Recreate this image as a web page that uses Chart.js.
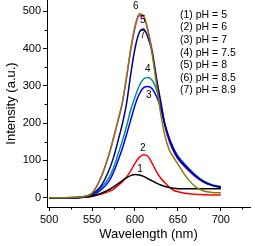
<!DOCTYPE html>
<html>
<head>
<meta charset="utf-8">
<script src="https://cdn.jsdelivr.net/npm/chart.js@4"></script>
<style>
  html, body { margin: 0; padding: 0; background: #fff; }
  #wrap { width: 255px; height: 246px; }
</style>
</head>
<body>
<div id="wrap"><canvas id="pl"></canvas></div>
<script>
// wavelength (nm)
const wavelengths = [500, 510, 520, 530, 540, 550, 560, 570, 575, 580, 585, 590, 595, 600, 605, 610, 615, 620, 625, 630, 635, 640, 645, 650, 660, 670, 680, 690, 700];

// intensity (a.u.) per pH
const ph5   = [0, 0, 0, 0, 1, 4, 11, 22, 29, 37, 45, 53, 59, 62, 61, 57, 51, 45, 39, 34, 30, 27, 25, 24, 24, 24, 24, 24, 24];
const ph6   = [0, 0, 0, 0, 1, 4, 9, 17, 23, 32, 42, 55, 72, 92, 108, 115, 111, 92, 70, 52, 40, 28, 20, 16, 11, 9, 8, 7, 7];
const ph7   = [0, 0, 0, 0, 1, 6, 20, 45, 68, 98, 130, 168, 208, 248, 278, 295, 298, 292, 272, 240, 195, 158, 130, 110, 83, 60, 43, 33, 28];
const ph75  = [0, 0, 0, 0, 2, 8, 25, 55, 80, 115, 150, 190, 235, 270, 300, 318, 322, 315, 290, 245, 195, 160, 132, 112, 85, 62, 45, 35, 30];
const ph8   = [0, 0, 0, 1, 3, 12, 52, 118, 160, 205, 252, 320, 395, 455, 488, 485, 450, 395, 320, 250, 190, 150, 125, 105, 78, 57, 42, 33, 29];
const ph85  = [0, 0, 0, 1, 3, 12, 52, 118, 160, 205, 250, 320, 398, 460, 493, 488, 448, 385, 305, 225, 165, 128, 108, 90, 55, 30, 18, 14, 13];
const ph89  = [0, 0, 0, 0, 2, 10, 30, 75, 108, 150, 195, 250, 330, 400, 443, 452, 430, 390, 320, 258, 195, 155, 125, 105, 80, 58, 42, 33, 28];

const seriesNames = ['(1) pH = 5', '(2) pH = 6', '(3) pH = 7', '(4) pH = 7.5', '(5) pH = 8', '(6) pH = 8.5', '(7) pH = 8.9'];
const seriesData = [ph5, ph6, ph7, ph75, ph8, ph85, ph89];
const seriesColors = ['#000000', '#ff0000', '#0000ff', '#009090', '#ff00ff', '#808000', '#000080'];

const xTicks = [500, 550, 600, 650, 700];
const xMinor = [525, 575, 625, 675, 725];
const yTicks = [0, 100, 200, 300, 400, 500];
const yMinor = [50, 150, 250, 350, 450];

// curve number labels [text, wavelength, intensity]
const curveTags = [
  ['6', 601, 512], ['5', 609, 476], ['7', 609, 436],
  ['4', 615, 344], ['3', 616, 274], ['2', 609, 133], ['1', 606, 75]
];

const FONT = "'Liberation Sans', Arial, sans-serif";

const datasets = seriesData.map((vals, i) => ({
  label: seriesNames[i],
  data: vals.map((v, j) => ({ x: wavelengths[j], y: v })),
  borderColor: seriesColors[i],
  borderWidth: 1.5,
  pointRadius: 0,
  fill: false,
  cubicInterpolationMode: 'monotone',
  order: i === 5 ? 0 : (i === 6 ? 1 : 2)
}));

// chart.js pads the axes for the end tick labels, we don't want that
function noPad(s) {
  s.paddingLeft = 0;
  s.paddingRight = 0;
  s.paddingTop = 0;
  s.paddingBottom = 0;
}

const extras = {
  id: 'extras',
  afterDraw(chart) {
    const ctx = chart.ctx;
    const xs = chart.scales.x, ys = chart.scales.y;
    ctx.save();
    ctx.strokeStyle = '#000';
    ctx.lineWidth = 1;
    // minor ticks
    ctx.beginPath();
    xMinor.forEach(v => {
      const px = Math.round(xs.getPixelForValue(v)) + 0.5;
      ctx.moveTo(px, ys.bottom);
      ctx.lineTo(px, ys.bottom + 2.5);
    });
    yMinor.forEach(v => {
      const py = Math.round(ys.getPixelForValue(v)) + 0.5;
      ctx.moveTo(xs.left, py);
      ctx.lineTo(xs.left - 2.5, py);
    });
    ctx.stroke();

    // curve numbers
    ctx.fillStyle = '#000';
    ctx.font = '10px ' + FONT;
    ctx.textAlign = 'center';
    ctx.textBaseline = 'middle';
    curveTags.forEach(t => {
      ctx.fillText(t[0], xs.getPixelForValue(t[1]), ys.getPixelForValue(t[2]));
    });

    // legend text
    ctx.font = '10.5px ' + FONT;
    ctx.textAlign = 'left';
    seriesNames.forEach((s, i) => {
      ctx.fillText(s, 180, 15 + i * 12.6);
    });
    ctx.restore();
  }
};

new Chart(document.getElementById('pl'), {
  type: 'line',
  data: { datasets: datasets },
  options: {
    responsive: true,
    maintainAspectRatio: false,
    animation: false,
    layout: { padding: { left: 0, right: 5, top: 0, bottom: 0 } },
    plugins: { legend: { display: false }, tooltip: { enabled: false } },
    scales: {
      x: {
        type: 'linear',
        min: 497.5,
        max: 734,
        afterBuildTicks: s => { s.ticks = xTicks.map(v => ({ value: v })); },
        afterFit: s => { s.height = 39; noPad(s); },
        grid: { drawOnChartArea: false, tickLength: 4, tickColor: '#000' },
        border: { color: '#000', width: 1 },
        ticks: { color: '#000', font: { family: FONT, size: 11 }, padding: 2, maxRotation: 0 },
        title: { display: true, text: 'Wavelength (nm)', color: '#000', font: { family: FONT, size: 13 }, padding: { top: 3 } }
      },
      y: {
        min: -25,
        max: 530,
        afterBuildTicks: s => { s.ticks = yTicks.map(v => ({ value: v })); },
        afterFit: s => { s.width = 47; noPad(s); },
        grid: { drawOnChartArea: false, tickLength: 4, tickColor: '#000' },
        border: { color: '#000', width: 1 },
        ticks: { color: '#000', font: { family: FONT, size: 11 }, padding: 2 },
        title: { display: true, text: 'Intensity (a.u.)', color: '#000', font: { family: FONT, size: 13 }, padding: { bottom: 0 } }
      }
    }
  },
  plugins: [extras]
});
</script>
</body>
</html>
